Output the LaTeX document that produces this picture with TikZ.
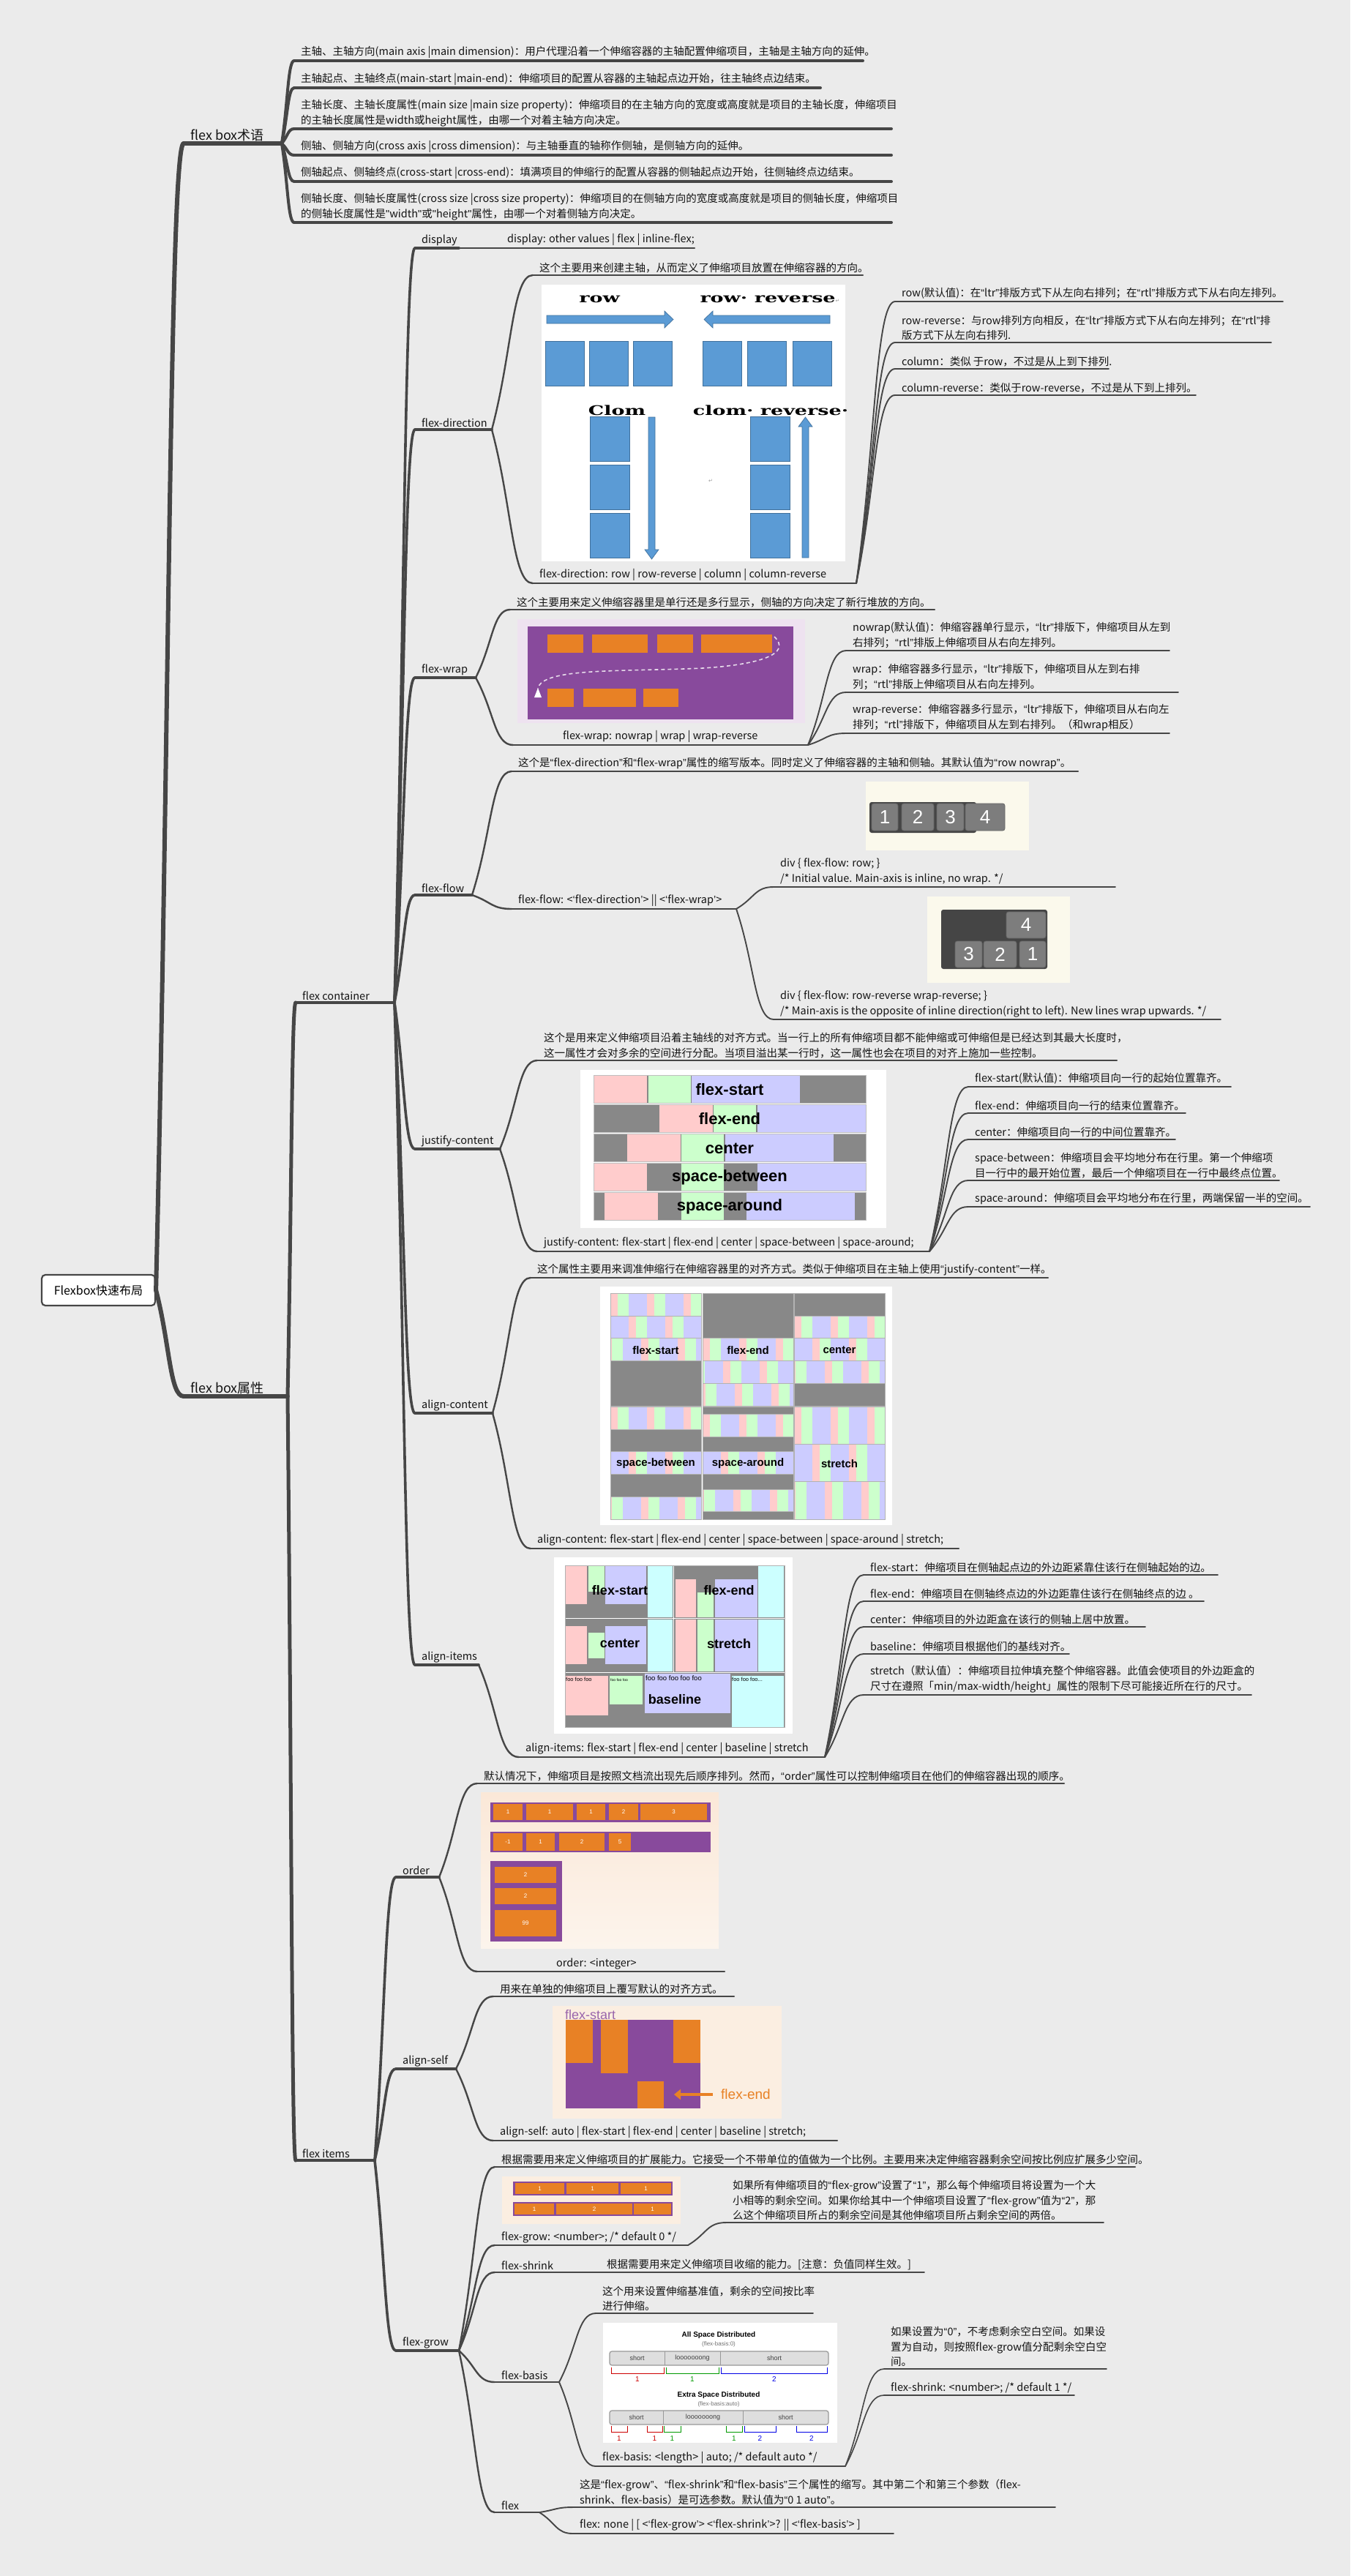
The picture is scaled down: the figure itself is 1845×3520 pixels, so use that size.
\documentclass[tikz,border=0pt]{standalone}
\usepackage{fontspec}
\usepackage{graphicx}
\setmainfont{Noto Sans CJK SC}
\newfontfamily\picserif{DejaVu Serif}
\newfontfamily\arial{Liberation Sans}
\newfontfamily\symfont{DejaVu Sans}
\newcommand{\dqo}{{\arial “}}
\newcommand{\dqc}{{\arial ”}}
\newcommand{\sqo}{{\arial ‘}}
\newcommand{\sqc}{{\arial ’}}
\newcommand{\dq}{{\arial "}}
\usetikzlibrary{calc, arrows.meta}
\definecolor{bgcol}{HTML}{EBEBEB}
\definecolor{linecol}{HTML}{464646}
\definecolor{fdblue}{HTML}{5B9BD5}
\definecolor{fdedge}{HTML}{41719C}
\definecolor{fxpurple}{HTML}{884A9C}
\definecolor{fxorange}{HTML}{E88125}
\definecolor{fxcream}{HTML}{FBEEE1}
\definecolor{fxlilac}{HTML}{EEE2F0}
\definecolor{ordtop}{HTML}{FBE8D8}
\definecolor{ordbot}{HTML}{FCF4EC}
\definecolor{jcpink}{HTML}{FFCCCC}
\definecolor{jcgreen}{HTML}{CCFFCC}
\definecolor{jclav}{HTML}{CCCCFF}
\definecolor{jccyan}{HTML}{CCFFFF}
\definecolor{jcgrey}{HTML}{888888}
\definecolor{ffcream}{HTML}{FBF9EC}
\definecolor{ffdark}{HTML}{454545}
\definecolor{ffitem}{HTML}{7D7D7D}
\tikzset{
  txt/.style={anchor=south west, inner sep=0pt, align=left, text=black!92,
              font=\fontsize{14.5}{20.5}\selectfont},
  bigtxt/.style={font=\fontsize{18}{22}\selectfont},
  rootbox/.style={draw=linecol, line width=2.2pt, fill=white, rounded corners=5pt,
              minimum width=155pt, minimum height=42pt, inner sep=2pt,
              font=\fontsize{16}{18}\selectfont},
  lvA/.style={draw=linecol, line width=5.5pt, line cap=round},
  lvB/.style={draw=linecol, line width=4.5pt, line cap=round},
  lvT/.style={draw=linecol, line width=4pt, line cap=round},
  lvC/.style={draw=linecol, line width=3.6pt, line cap=round},
  lvD/.style={draw=linecol, line width=2.4pt, line cap=round},
  lvE/.style={draw=linecol, line width=1.9pt, line cap=round},
  lvF/.style={draw=linecol, line width=1.6pt, line cap=round},
  brA/.style={draw=linecol, line width=6pt, line cap=round},
  brB/.style={draw=linecol, line width=5pt, line cap=round},
  brT/.style={draw=linecol, line width=4pt, line cap=round},
  brC/.style={draw=linecol, line width=3.6pt, line cap=round},
  brD/.style={draw=linecol, line width=2.4pt, line cap=round},
  brE/.style={draw=linecol, line width=1.9pt, line cap=round},
  brF/.style={draw=linecol, line width=1.6pt, line cap=round},
  fdbox/.style={fill=fdblue, draw=fdedge, line width=0.7pt},
  fdtitle/.style={inner sep=0pt, font=\picserif\bfseries\fontsize{18}{18}\selectfont},
  jclabel/.style={inner sep=0pt, font=\arial\bfseries\fontsize{22}{22}\selectfont},
  aclabel/.style={inner sep=0pt, font=\arial\bfseries\fontsize{15}{15}\selectfont},
  ailabel/.style={inner sep=0pt, font=\arial\bfseries\fontsize{18}{18}\selectfont},
  numlabel/.style={inner sep=0pt, text=white, font=\arial\fontsize{8}{8}\selectfont},
  fflabel/.style={inner sep=0pt, text=white, font=\arial\fontsize{26}{26}\selectfont},
  foolabel/.style={inner sep=0pt, anchor=north west, font=\arial\fontsize{7.5}{7.5}\selectfont},
  fbtitle/.style={inner sep=0pt, font=\arial\bfseries\fontsize{10}{10}\selectfont},
  fbsub/.style={inner sep=0pt, text=black!55, font=\arial\fontsize{8}{8}\selectfont},
  fbcell/.style={inner sep=0pt, text=black!75, font=\arial\fontsize{9}{9}\selectfont},
  fbnum/.style={inner sep=0pt, font=\arial\fontsize{10}{10}\selectfont},
}
% topic: [text options]{name}{line style}{x start}{x end}{y of underline}{text}
\newcommand{\topic}[7][]{%
  \coordinate (#2s) at (#4,#6);
  \coordinate (#2e) at (#5,#6);
  \node[txt,#1] (#2) at (#4+9,#6-3) {#7};
  \draw[#3] (#2s) -- (#2e);
}
% curved branch from parent end to child start
\newcommand{\branch}[3]{%
  \draw[#1] (#2) .. controls ($(#2)!0.5!(#3)$) and ($(#2|-#3)!0.5!(#3)$) .. (#3);
}
% one stripe line of the align-content picture: x, y, height, offset
\newcommand{\acline}[4]{%
  \begin{scope}
    \clip (#1,#2) rectangle ++(124,#3);
    \foreach \k in {0,...,3}{
      \fill[jcpink] (#1+#4+50*\k,#2) rectangle ++(10,#3);
      \fill[jcgreen] (#1+#4+50*\k+10,#2) rectangle ++(15,#3);
      \fill[jclav] (#1+#4+50*\k+25,#2) rectangle ++(25,#3);
    }
  \end{scope}
  \draw[black!30, line width=0.6pt] (#1,#2) rectangle ++(124,#3);
}
\begin{document}
\begin{tikzpicture}[x=1pt, y=-1pt]
\useasboundingbox (0,0) rectangle (1845,3520);
\fill[bgcol] (0,0) rectangle (1845,3520);

% ---------- root and first levels
\node[rootbox] (root) at (134.5,1763) {Flexbox快速布局};
\topic[bigtxt]{term}{lvA}{251}{385}{196}{flex box术语}
\topic[bigtxt]{attr}{lvA}{251}{393}{1908}{flex box属性}
\branch{brA}{root.east}{terms}
\branch{brA}{root.east}{attrs}

% ---------- terms
\topic{tA}{lvT}{402}{1179}{83}{主轴、主轴方向(main axis |main dimension)：用户代理沿着一个伸缩容器的主轴配置伸缩项目，主轴是主轴方向的延伸。}
\topic{tB}{lvT}{402}{1121}{120}{主轴起点、主轴终点(main-start |main-end)：伸缩项目的配置从容器的主轴起点边开始，往主轴终点边结束。}
\topic{tC}{lvT}{402}{1218}{176}{主轴长度、主轴长度属性(main size |main size property)：伸缩项目的在主轴方向的宽度或高度就是项目的主轴长度，伸缩项目\\的主轴长度属性是width或height属性，由哪一个对着主轴方向决定。}
\topic{tD}{lvT}{402}{1218}{212}{侧轴、侧轴方向(cross axis |cross dimension)：与主轴垂直的轴称作侧轴，是侧轴方向的延伸。}
\topic{tE}{lvT}{402}{1218}{248}{侧轴起点、侧轴终点(cross-start |cross-end)：填满项目的伸缩行的配置从容器的侧轴起点边开始，往侧轴终点边结束。}
\topic{tF}{lvT}{402}{1218}{304}{侧轴长度、侧轴长度属性(cross size |cross size property)：伸缩项目的在侧轴方向的宽度或高度就是项目的侧轴长度，伸缩项目\\的侧轴长度属性是\dq{}width\dq{}或\dq{}height\dq{}属性，由哪一个对着侧轴方向决定。}
\branch{brT}{terme}{tAs}
\branch{brT}{terme}{tBs}
\branch{brT}{terme}{tCs}
\branch{brT}{terme}{tDs}
\branch{brT}{terme}{tEs}
\branch{brT}{terme}{tFs}

% ---------- flex container / flex items
\topic{cont}{lvB}{404}{539}{1370}{flex container}
\topic{items}{lvB}{404}{512}{2952}{flex items}
\branch{brB}{attre}{conts}
\branch{brB}{attre}{itemss}

% display
\topic{disp}{lvC}{567}{627}{339}{display}
\topic{dispv}{lvD}{684}{949}{339}{display: other values | flex | inline-flex;}
\branch{brC}{conte}{disps}
\branch{brD}{dispe}{dispvs}

% flex-direction
\topic{fdir}{lvC}{567}{672}{587}{flex-direction}
\topic{fdA}{lvD}{728}{1179}{376}{这个主要用来创建主轴，从而定义了伸缩项目放置在伸缩容器的方向。}
\topic{fdB}{lvD}{728}{1170}{797}{flex-direction: row | row-reverse | column | column-reverse}
\topic{fdrA}{lvE}{1223}{1753}{412}{row(默认值)：在\dqo{}ltr\dqc{}排版方式下从左向右排列；在\dqo{}rtl\dqc{}排版方式下从右向左排列。}
\topic{fdrB}{lvE}{1223}{1737}{468}{row-reverse：与row排列方向相反，在\dqo{}ltr\dqc{}排版方式下从右向左排列；在\dqo{}rtl\dqc{}排\\版方式下从左向右排列.}
\topic{fdrC}{lvE}{1223}{1515}{504}{column：类似 于row，不过是从上到下排列.}
\topic{fdrD}{lvE}{1223}{1634}{540}{column-reverse：类似于row-reverse，不过是从下到上排列。}
\branch{brC}{conte}{fdirs}
\branch{brD}{fdire}{fdAs}
\branch{brD}{fdire}{fdBs}
\branch{brE}{fdBe}{fdrAs}
\branch{brE}{fdBe}{fdrBs}
\branch{brE}{fdBe}{fdrCs}
\branch{brE}{fdBe}{fdrDs}
% picture of the four directions
\fill[white] (740,389) rectangle (1155,767);
\node[fdtitle] (fdrow) at (819,409) {\scalebox{1.5}[1]{row}};
\node[fdtitle] (fdrowrev) at (1052,409) {\scalebox{1.5}[1]{row· reverse}{\symfont\mdseries\color{black!40}\fontsize{7}{7}\selectfont ↵}};
\filldraw[fdbox] (747,431) -- (908,431) -- (908,425) -- (920,436.5) -- (908,448) -- (908,442) -- (747,442) -- cycle;
\filldraw[fdbox] (1134,431) -- (974,431) -- (974,425) -- (962,436.5) -- (974,448) -- (974,442) -- (1134,442) -- cycle;
\foreach \bx in {745,805,865,960,1021,1083}
  \filldraw[fdbox] (\bx,466) rectangle ++(53,61);
\node[fdtitle] (fdcol) at (843,561) {\scalebox{1.5}[1]{Clom}};
\node[fdtitle] (fdcolrev) at (1053,561) {\scalebox{1.5}[1]{clom· reverse·}};
\foreach \by in {569,635,701}{
  \filldraw[fdbox] (806,\by) rectangle ++(54,61);
  \filldraw[fdbox] (1025,\by) rectangle ++(54,61);
}
\filldraw[fdbox] (886,570) -- (895,570) -- (895,751) -- (900,751) -- (890.5,764) -- (881,751) -- (886,751) -- cycle;
\filldraw[fdbox] (1096,762) -- (1105,762) -- (1105,583) -- (1110,583) -- (1100.5,570) -- (1091,583) -- (1096,583) -- cycle;
\node[inner sep=0pt, text=black!40, font=\symfont\fontsize{7}{7}\selectfont] (fdmark) at (971,657) {↵};

% flex-wrap
\topic{fwrap}{lvC}{567}{650}{926}{flex-wrap}
\topic{fwA}{lvD}{697}{1277}{833}{这个主要用来定义伸缩容器里是单行还是多行显示，侧轴的方向决定了新行堆放的方向。}
\topic[xshift=59pt]{fwB}{lvD}{701}{1104}{1018}{flex-wrap: nowrap | wrap | wrap-reverse}
\topic{fwrA}{lvE}{1156}{1598}{889}{nowrap(默认值)：伸缩容器单行显示，\dqo{}ltr\dqc{}排版下，伸缩项目从左到\\右排列；\dqo{}rtl\dqc{}排版上伸缩项目从右向左排列。}
\topic{fwrB}{lvE}{1156}{1610}{946}{wrap：伸缩容器多行显示，\dqo{}ltr\dqc{}排版下，伸缩项目从左到右排\\列；\dqo{}rtl\dqc{}排版上伸缩项目从右向左排列。}
\topic{fwrC}{lvE}{1156}{1598}{1002}{wrap-reverse：伸缩容器多行显示，\dqo{}ltr\dqc{}排版下，伸缩项目从右向左\\排列；\dqo{}rtl\dqc{}排版下，伸缩项目从左到右排列。（和wrap相反）}
\branch{brC}{conte}{fwraps}
\branch{brD}{fwrape}{fwAs}
\branch{brD}{fwrape}{fwBs}
\branch{brE}{fwBe}{fwrAs}
\branch{brE}{fwBe}{fwrBs}
\branch{brE}{fwBe}{fwrCs}
\fill[fxlilac] (707,846) rectangle (1100,988);
\fill[fxpurple] (721,856) rectangle (1084,983);
\foreach \ba/\bb in {748/797,809/885,898/947,958/1055}
  \fill[fxorange] (\ba,867) rectangle (\bb,892);
\foreach \ba/\bb in {748/784,797/869,879/927}
  \fill[fxorange] (\ba,941) rectangle (\bb,966);
\draw[white!80!fxpurple, line width=1.6pt, dash pattern=on 5pt off 4pt]
  (1058,870) .. controls (1082,893) and (1040,908) .. (960,913)
  .. controls (850,918) and (740,912) .. (735,941);
\fill[white] (730,953) -- (740,953) -- (735,940) -- cycle;

% flex-flow
\topic{fflow}{lvC}{567}{645}{1223}{flex-flow}
\topic{ffA}{lvD}{699}{1473}{1054}{这个是\dqo{}flex-direction\dqc{}和\dqo{}flex-wrap\dqc{}属性的缩写版本。同时定义了伸缩容器的主轴和侧轴。其默认值为\dqo{}row nowrap\dqc{}。}
\topic{ffB}{lvD}{699}{1006}{1242}{flex-flow: <\sqo{}flex-direction\sqc{}> || <\sqo{}flex-wrap\sqc{}>}
\topic{ffrA}{lvE}{1057}{1524}{1212}{div \{ flex-flow: row; \}\\/* Initial value. Main-axis is inline, no wrap. */}
\topic{ffrB}{lvE}{1057}{1668}{1393}{div \{ flex-flow: row-reverse wrap-reverse; \}\\/* Main-axis is the opposite of inline direction(right to left). New lines wrap upwards. */}
\branch{brC}{conte}{fflows}
\branch{brD}{fflowe}{ffAs}
\branch{brD}{fflowe}{ffBs}
\branch{brE}{ffBe}{ffrAs}
\branch{brE}{ffBe}{ffrBs}
\fill[ffcream] (1183,1068) rectangle (1406,1162);
\fill[ffdark, rounded corners=3pt] (1188,1096) rectangle (1334,1138);
\foreach \ba/\bb/\nn in {1191/1227/1,1232/1276/2,1280/1317/3,1319/1373/4}{
  \filldraw[fill=ffitem, draw=black!60, line width=0.8pt, rounded corners=3pt] (\ba,1098) rectangle (\bb,1135);
  \node[fflabel] (ffn\nn) at ({(\ba+\bb)/2},1116.5) {\nn};
}
\fill[ffcream] (1267,1225) rectangle (1462,1343);
\fill[ffdark, rounded corners=3pt] (1286,1243) rectangle (1431,1324);
\foreach \ba/\bb/\ya/\yb/\nn in {1375/1429/1246/1282/4,1305/1342/1286/1322/3,1344/1389/1286/1322/2,1393/1429/1286/1322/1}{
  \filldraw[fill=ffitem, draw=black!60, line width=0.8pt, rounded corners=3pt] (\ba,\ya) rectangle (\bb,\yb);
  \node[fflabel] (ffm\nn) at ({(\ba+\bb)/2},{(\ya+\yb)/2}) {\nn};
}

% justify-content
\topic{jcont}{lvC}{567}{683}{1570}{justify-content}
\topic{jcA}{lvD}{734}{1526}{1449}{这个是用来定义伸缩项目沿着主轴线的对齐方式。当一行上的所有伸缩项目都不能伸缩或可伸缩但是已经达到其最大长度时，\\这一属性才会对多余的空间进行分配。当项目溢出某一行时，这一属性也会在项目的对齐上施加一些控制。}
\topic{jcB}{lvD}{734}{1270}{1710}{justify-content: flex-start | flex-end | center | space-between | space-around;}
\topic{jrA}{lvE}{1323}{1682}{1485}{flex-start(默认值)：伸缩项目向一行的起始位置靠齐。}
\topic{jrB}{lvE}{1323}{1620}{1521}{flex-end：伸缩项目向一行的结束位置靠齐。}
\topic{jrC}{lvE}{1323}{1606}{1557}{center：伸缩项目向一行的中间位置靠齐。}
\topic{jrD}{lvE}{1323}{1748}{1613}{space-between：伸缩项目会平均地分布在行里。第一个伸缩项\\目一行中的最开始位置，最后一个伸缩项目在一行中最终点位置。}
\topic{jrE}{lvE}{1323}{1790}{1649}{space-around：伸缩项目会平均地分布在行里，两端保留一半的空间。}
\branch{brC}{conte}{jconts}
\branch{brD}{jconte}{jcAs}
\branch{brD}{jconte}{jcBs}
\branch{brE}{jcBe}{jrAs}
\branch{brE}{jcBe}{jrBs}
\branch{brE}{jcBe}{jrCs}
\branch{brE}{jcBe}{jrDs}
\branch{brE}{jcBe}{jrEs}
\fill[white] (793,1462) rectangle (1211,1678);
\foreach \yy/\pp/\gg/\ll/\tt [count=\i] in {1469/811/886/945/flex-start,1509/901/975/1035/flex-end,1549/857/931/991/center,1589/811/931/1035/space-between,1629/826/931/1020/space-around}{
  \fill[jcgrey] (811,\yy) rectangle (1183,\yy+38);
  \fill[jcpink] (\pp,\yy) rectangle ++(73,38);
  \fill[jcgreen] (\gg,\yy) rectangle ++(58,38);
  \fill[jclav] (\ll,\yy) rectangle ++(148,38);
  \draw[black!25, line width=0.8pt] (811,\yy) rectangle (1183,\yy+38);
  \node[jclabel] (jclab\i) at (997,\yy+20) {\tt};
}

% align-content
\topic{acont}{lvC}{567}{673}{1931}{align-content}
\topic{acA}{lvD}{725}{1432}{1746}{这个属性主要用来调准伸缩行在伸缩容器里的对齐方式。类似于伸缩项目在主轴上使用\dqo{}justify-content\dqc{}一样。}
\topic{acB}{lvD}{725}{1310}{2116}{align-content: flex-start | flex-end | center | space-between | space-around | stretch;}
\branch{brC}{conte}{aconts}
\branch{brD}{aconte}{acAs}
\branch{brD}{aconte}{acBs}
\fill[white] (820,1758) rectangle (1219,2084);
\foreach \px/\py in {834/1767,960/1767,1085/1767,834/1922,960/1922,1085/1922}
  \fill[jcgrey] (\px,\py) rectangle ++(124,154);
\acline{834}{1767}{30.8}{0}
\acline{834}{1797.8}{30.8}{-25}
\acline{834}{1828.6}{30.8}{-8}
\acline{960}{1828.6}{30.8}{0}
\acline{960}{1859.4}{30.8}{-22}
\acline{960}{1890.2}{30.8}{-6}
\acline{1085}{1797.8}{30.8}{0}
\acline{1085}{1828.6}{30.8}{-25}
\acline{1085}{1859.4}{30.8}{-8}
\acline{834}{1922}{30.8}{0}
\acline{834}{1983.6}{30.8}{-25}
\acline{834}{2045.2}{30.8}{-8}
\acline{960}{1932.3}{30.8}{0}
\acline{960}{1983.6}{30.8}{-25}
\acline{960}{2034.9}{30.8}{-8}
\acline{1085}{1922}{51.3}{0}
\acline{1085}{1973.3}{51.3}{-25}
\acline{1085}{2024.6}{51.3}{-8}
\foreach \px/\py in {834/1767,960/1767,1085/1767,834/1922,960/1922,1085/1922}
  \draw[black!30, line width=1pt] (\px,\py) rectangle ++(124,154);
\node[aclabel] (acl1) at (896,1845) {flex-start};
\node[aclabel] (acl2) at (1022,1845) {flex-end};
\node[aclabel] (acl3) at (1147,1845) {center};
\node[aclabel] (acl4) at (896,2000) {space-between};
\node[aclabel] (acl5) at (1022,2000) {space-around};
\node[aclabel] (acl6) at (1147,2000) {stretch};

% align-items
\topic{aitem}{lvC}{567}{654}{2275}{align-items}
\topic{aiA}{lvD}{709}{1127}{2401}{align-items: flex-start | flex-end | center | baseline | stretch}
\topic{airA}{lvE}{1180}{1664}{2152}{flex-start：伸缩项目在侧轴起点边的外边距紧靠住该行在侧轴起始的边。}
\topic{airB}{lvE}{1180}{1645}{2188}{flex-end：伸缩项目在侧轴终点边的外边距靠住该行在侧轴终点的边 。}
\topic{airC}{lvE}{1180}{1565}{2223}{center：伸缩项目的外边距盒在该行的侧轴上居中放置。}
\topic{airD}{lvE}{1180}{1461}{2260}{baseline：伸缩项目根据他们的基线对齐。}
\topic{airE}{lvE}{1180}{1710}{2316}{stretch（默认值）：伸缩项目拉伸填充整个伸缩容器。此值会使项目的外边距盒的\\尺寸在遵照「min/max-width/height」属性的限制下尽可能接近所在行的尺寸。}
\branch{brC}{conte}{aitems}
\branch{brD}{aiteme}{aiAs}
\branch{brE}{aiAe}{airAs}
\branch{brE}{aiAe}{airBs}
\branch{brE}{aiAe}{airCs}
\branch{brE}{aiAe}{airDs}
\branch{brE}{aiAe}{airEs}
\fill[white] (757,2128) rectangle (1083,2369);
\fill[jcgrey] (772,2139) rectangle (1072,2360);
% flex-start / flex-end / center / stretch panels
\fill[jcpink] (773,2140) rectangle (802,2192);
\fill[jcgreen] (804,2140) rectangle (826,2175);
\fill[jclav] (827,2140) rectangle (883,2192);
\fill[jccyan] (885,2140) rectangle (919,2210);
\fill[jcpink] (923,2158) rectangle (951,2210);
\fill[jcgreen] (953,2176) rectangle (975,2210);
\fill[jclav] (977,2158) rectangle (1035,2210);
\fill[jccyan] (1036,2140) rectangle (1071,2210);
\fill[jcpink] (773,2222) rectangle (802,2274);
\fill[jcgreen] (804,2231) rectangle (826,2266);
\fill[jclav] (827,2222) rectangle (883,2274);
\fill[jccyan] (885,2213) rectangle (919,2284);
\fill[jcpink] (923,2213) rectangle (951,2284);
\fill[jcgreen] (953,2213) rectangle (975,2284);
\fill[jclav] (977,2213) rectangle (1035,2284);
\fill[jccyan] (1036,2213) rectangle (1071,2284);
% baseline panel
\fill[jcpink] (773,2290) rectangle (831,2344);
\fill[jcgreen] (833,2290) rectangle (878,2329);
\fill[jclav] (881,2287) rectangle (998,2341);
\fill[jccyan] (1000,2290) rectangle (1071,2360);
\draw[white, line width=1.5pt] (772,2211.5) -- (1072,2211.5) (772,2285.5) -- (1072,2285.5) (920.5,2139) -- (920.5,2285);
\draw[black!30, line width=0.8pt] (772,2139) rectangle (1072,2360);
\node[foolabel] (foo1) at (773,2292) {foo foo foo};
\node[foolabel, font=\arial\fontsize{5}{5}\selectfont] (foo2) at (834,2294) {foo foo foo};
\node[foolabel, font=\arial\fontsize{9.5}{9.5}\selectfont] (foo3) at (882,2289) {foo foo foo foo foo};
\node[foolabel] (foo4) at (1000,2292) {foo foo foo...};
\node[ailabel] (ail1) at (847,2173) {flex-start};
\node[ailabel] (ail2) at (996,2173) {flex-end};
\node[ailabel] (ail3) at (847,2246) {center};
\node[ailabel] (ail4) at (996,2246) {stretch};
\node[ailabel] (ail5) at (922,2322) {baseline};

% ---------- flex items: order
\topic{order}{lvC}{541}{600}{2565}{order}
\topic{orA}{lvD}{652}{1454}{2437}{默认情况下，伸缩项目是按照文档流出现先后顺序排列。然而，\dqo{}order\dqc{}属性可以控制伸缩项目在他们的伸缩容器出现的顺序。}
\topic[xshift=99pt]{orB}{lvD}{652}{990}{2694}{order: <integer>}
\branch{brC}{itemse}{orders}
\branch{brD}{ordere}{orAs}
\branch{brD}{ordere}{orBs}
\shade[top color=ordtop, bottom color=ordbot] (657,2449) rectangle (982,2662);
\fill[fxpurple] (670,2463) rectangle (971,2490);
\foreach \ba/\bb/\nn [count=\i] in {674/714/1,719/783/1,788/827/1,832/872/2,875/966/3}{
  \fill[fxorange] (\ba,2465) rectangle (\bb,2487);
  \node[numlabel] (ordA\i) at ({(\ba+\bb)/2},2476) {\nn};
}
\fill[fxpurple] (670,2503) rectangle (971,2531);
\foreach \ba/\bb/\nn [count=\i] in {674/714/-1,719/758/1,764/826/2,832/862/5}{
  \fill[fxorange] (\ba,2505) rectangle (\bb,2529);
  \node[numlabel] (ordB\i) at ({(\ba+\bb)/2},2517) {\nn};
}
\fill[fxpurple] (670,2543) rectangle (768,2653);
\foreach \ya/\yb/\nn [count=\i] in {2551/2573/2,2580/2602/2,2610/2646/99}{
  \fill[fxorange] (676,\ya) rectangle (760,\yb);
  \node[numlabel] (ordC\i) at (718,{(\ya+\yb)/2}) {\nn};
}

% align-self
\topic{aself}{lvC}{541}{623}{2827}{align-self}
\topic{asA}{lvD}{674}{1003}{2728}{用来在单独的伸缩项目上覆写默认的对齐方式。}
\topic{asB}{lvD}{674}{1144}{2925}{align-self: auto | flex-start | flex-end | center | baseline | stretch;}
\branch{brC}{itemse}{aselfs}
\branch{brD}{aselfe}{asAs}
\branch{brD}{aselfe}{asBs}
\fill[fxcream] (755,2741) rectangle (1068,2895);
\fill[fxpurple] (773,2760) rectangle (957,2881);
\fill[fxorange] (773,2760) rectangle (810,2819);
\fill[fxorange] (821,2760) rectangle (858,2833);
\fill[fxorange] (920,2760) rectangle (957,2819);
\fill[fxorange] (871,2844) rectangle (907,2881);
\node[inner sep=0pt, anchor=base west, text=fxpurple!85, font=\arial\fontsize{18}{18}\selectfont] (asstart) at (772,2759) {flex-start};
\node[inner sep=0pt, anchor=west, text=fxorange, font=\arial\fontsize{19}{19}\selectfont] (asend) at (985,2862) {flex-end};
\draw[fxorange, line width=4pt, -{Triangle[length=9pt, width=14pt]}] (asend.west) ++(-11,0) -- (921,2862);

% flex-grow
\topic{fgrow}{lvC}{541}{627}{3212}{flex-grow}
\topic{fgA}{lvD}{676}{1551}{2961}{根据需要用来定义伸缩项目的扩展能力。它接受一个不带单位的值做为一个比例。主要用来决定伸缩容器剩余空间按比例应扩展多少空间。}
\topic{fgB}{lvD}{676}{940}{3068}{flex-grow: <number>; /* default 0 */}
\topic{fgr}{lvE}{992}{1508}{3037}{如果所有伸缩项目的\dqo{}flex-grow\dqc{}设置了\dqo{}1\dqc{}，那么每个伸缩项目将设置为一个大\\小相等的剩余空间。如果你给其中一个伸缩项目设置了\dqo{}flex-grow\dqc{}值为\dqo{}2\dqc{}，那\\么这个伸缩项目所占的剩余空间是其他伸缩项目所占剩余空间的两倍。}
\topic{fshrink}{lvD}{676}{764}{3105}{flex-shrink}
\topic{fsA}{lvE}{820}{1263}{3105}{根据需要用来定义伸缩项目收缩的能力。[注意：负值同样生效。]}
\topic{fbasis}{lvD}{676}{764}{3255}{flex-basis}
\topic{fbA}{lvE}{814}{1111}{3161}{这个用来设置伸缩基准值，剩余的空间按比率\\进行伸缩。}
\topic{fbB}{lvE}{814}{1155}{3370}{flex-basis: <length> | auto; /* default auto */}
\topic{fbrA}{lvF}{1208}{1512}{3237}{如果设置为\dqo{}0\dqc{}，不考虑剩余空白空间。如果设\\置为自动，则按照flex-grow值分配剩余空白空\\间。}
\topic{fbrB}{lvF}{1208}{1468}{3273}{flex-shrink: <number>; /* default 1 */}
\topic{flex}{lvD}{676}{737}{3433}{flex}
\topic{fxA}{lvE}{783}{1442}{3426}{这是\dqo{}flex-grow\dqc{}、\dqo{}flex-shrink\dqc{}和\dqo{}flex-basis\dqc{}三个属性的缩写。其中第二个和第三个参数（flex-\\shrink、flex-basis）是可选参数。默认值为\dqo{}0 1 auto\dqc{}。}
\topic{fxB}{lvE}{783}{1221}{3462}{flex: none | [ <\sqo{}flex-grow\sqc{}> <\sqo{}flex-shrink\sqc{}>? || <\sqo{}flex-basis\sqc{}> ]}
\branch{brC}{itemse}{fgrows}
\branch{brD}{fgrowe}{fgAs}
\branch{brD}{fgrowe}{fgBs}
\branch{brE}{fgBe}{fgrs}
\branch{brD}{fgrowe}{fshrinks}
\branch{brE}{fshrinke}{fsAs}
\branch{brD}{fgrowe}{fbasiss}
\branch{brE}{fbasise}{fbAs}
\branch{brE}{fbasise}{fbBs}
\branch{brF}{fbBe}{fbrAs}
\branch{brF}{fbBe}{fbrBs}
\branch{brD}{fgrowe}{flexs}
\branch{brE}{flexe}{fxAs}
\branch{brE}{flexe}{fxBs}
% flex-grow picture
\fill[fxcream] (686,2974) rectangle (930,3039);
\fill[fxpurple] (701,2981) rectangle (919,3000);
\foreach \ba/\bb [count=\i] in {704/771,774/845,848/917}{
  \fill[fxorange] (\ba,2983) rectangle (\bb,2998);
  \node[numlabel] (fgA\i) at ({(\ba+\bb)/2},2990.5) {1};
}
\fill[fxpurple] (701,3009) rectangle (919,3028);
\foreach \ba/\bb/\nn [count=\i] in {703/757/1,760/864/2,866/917/1}{
  \fill[fxorange] (\ba,3011) rectangle (\bb,3026);
  \node[numlabel] (fgB\i) at ({(\ba+\bb)/2},3018.5) {\nn};
}
% flex-basis picture
\fill[white] (824,3174) rectangle (1144,3338);
\node[fbtitle] (fbt1) at (982,3191) {All Space Distributed};
\node[fbsub] (fbs1) at (982,3203) {(flex-basis:0)};
\filldraw[fill=black!13, draw=black!40, line width=1.2pt, rounded corners=3pt] (833,3213) rectangle (1132,3232);
\draw[black!40, line width=1pt] (908,3213) -- (908,3232) (984,3213) -- (984,3232);
\node[fbcell] (fbc1) at (870.5,3222.5) {short};
\node[fbcell] (fbc2) at (946,3222.5) {looooooong};
\node[fbcell] (fbc3) at (1058,3222.5) {short};
\draw[red!80!black, line width=1pt] (835,3235) -- (835,3243) -- (907,3243) -- (907,3235);
\draw[green!60!black, line width=1pt] (910,3235) -- (910,3243) -- (982,3243) -- (982,3235);
\draw[blue!90!black, line width=1pt] (985,3235) -- (985,3243) -- (1130,3243) -- (1130,3235);
\node[fbnum, text=red!80!black] (fbn1) at (871,3251) {1};
\node[fbnum, text=green!60!black] (fbn2) at (946,3251) {1};
\node[fbnum, text=blue!90!black] (fbn3) at (1058,3251) {2};
\node[fbtitle] (fbt2) at (982,3273) {Extra Space Distributed};
\node[fbsub] (fbs2) at (982,3285) {(flex-basis:auto)};
\filldraw[fill=black!13, draw=black!40, line width=1.2pt, rounded corners=3pt] (833,3294) rectangle (1132,3313);
\draw[black!40, line width=1pt] (906,3294) -- (906,3313) (1015,3294) -- (1015,3313);
\node[fbcell] (fbc4) at (869.5,3303.5) {short};
\node[fbcell] (fbc5) at (960.5,3303.5) {looooooong};
\node[fbcell] (fbc6) at (1073.5,3303.5) {short};
\foreach \ba/\bb/\cc/\nn [count=\i] in {835/857/red!80!black/1,884/905/red!80!black/1,907/930/green!60!black/1,992/1014/green!60!black/1,1017/1060/blue!90!black/2,1088/1130/blue!90!black/2}{
  \draw[\cc, line width=1pt] (\ba,3315) -- (\ba,3323) -- (\bb,3323) -- (\bb,3315);
  \node[fbnum, text=\cc] (fbm\i) at ({(\ba+\bb)/2},3332) {\nn};
}
\end{tikzpicture}
\end{document}
